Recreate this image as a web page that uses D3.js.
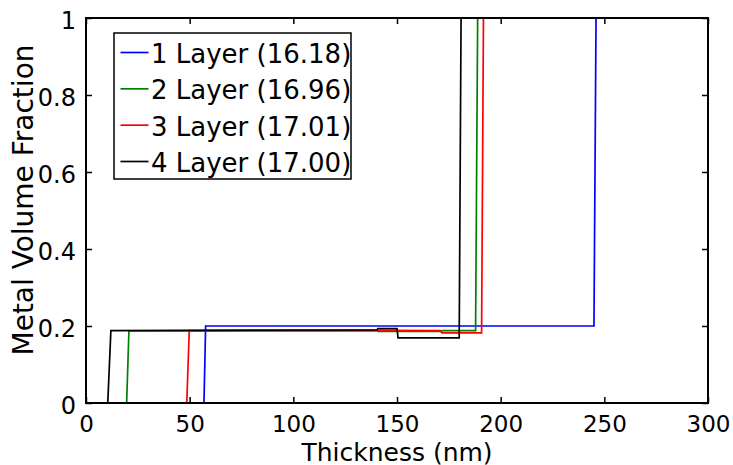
<!DOCTYPE html>
<html>
<head>
<meta charset="utf-8">
<script src="https://cdn.jsdelivr.net/npm/d3@7"></script>
<style>
  html, body { margin: 0; padding: 0; background: #fff; }
  svg { display: block; }
  text { font-family: "DejaVu Sans", sans-serif; fill: #000; }
</style>
</head>
<body>
<svg id="chart" width="733" height="465"></svg>
<script>
// ---- data ----
const seriesNames = ["1 Layer (16.18)", "2 Layer (16.96)", "3 Layer (17.01)", "4 Layer (17.00)"];
const seriesColors = ["#0000ff", "#008000", "#ff0000", "#000000"];

const layer1X = [0, 56.9, 57.7, 245.0, 246.0, 300];
const layer1Y = [0, 0, 0.200, 0.200, 1, 1];

const layer2X = [0, 19.6, 20.7, 140.0, 141.0, 171.0, 172.0, 187.9, 188.9, 300];
const layer2Y = [0, 0, 0.187, 0.188, 0.186, 0.186, 0.188, 0.188, 1, 1];

const layer3X = [0, 48.6, 49.8, 140.0, 171.0, 171.6, 190.8, 191.7, 300];
const layer3Y = [0, 0, 0.188, 0.189, 0.188, 0.182, 0.182, 1, 1];

const layer4X = [0, 10.5, 12.0, 140.3, 140.8, 150.0, 150.5, 180.0, 180.9, 300];
const layer4Y = [0, 0, 0.188, 0.190, 0.193, 0.193, 0.169, 0.169, 1, 1];

const xTicks = [0, 50, 100, 150, 200, 250, 300];
const yTicks = [0, 0.2, 0.4, 0.6, 0.8, 1];
const xTitle = "Thickness (nm)";
const yTitle = "Metal Volume Fraction";

// ---- layout ----
const svg = d3.select("#chart");
const L = 86, R = 708, T = 18, B = 403;
const x = d3.scaleLinear().domain([0, 300]).range([L, R]);
const y = d3.scaleLinear().domain([0, 1]).range([B, T]);

const series = [
  {x: layer1X, y: layer1Y},
  {x: layer2X, y: layer2Y},
  {x: layer3X, y: layer3Y},
  {x: layer4X, y: layer4Y}
];

svg.append("defs").append("clipPath").attr("id", "clip")
  .append("rect").attr("x", L).attr("y", T).attr("width", R - L).attr("height", B - T);

const line = d3.line().x(d => x(d[0])).y(d => y(d[1]));
const gLines = svg.append("g").attr("clip-path", "url(#clip)");
series.forEach((s, i) => {
  const pts = s.x.map((v, j) => [v, s.y[j]]);
  gLines.append("path").datum(pts)
    .attr("d", line)
    .attr("fill", "none")
    .attr("stroke", seriesColors[i])
    .attr("stroke-width", 1.7);
});

// ---- axes (MATLAB-style box with inward ticks) ----
const tickLen = 6;

const axB = svg.append("g").attr("transform", `translate(0,${B})`)
  .call(d3.axisBottom(x).tickValues(xTicks).tickSize(-tickLen).tickPadding(tickLen + 6).tickFormat(d3.format("d")));
const axT = svg.append("g").attr("transform", `translate(0,${T})`)
  .call(d3.axisTop(x).tickValues(xTicks).tickSize(-tickLen).tickFormat(""));
const axL = svg.append("g").attr("transform", `translate(${L},0)`)
  .call(d3.axisLeft(y).tickValues(yTicks).tickSize(-tickLen).tickPadding(tickLen + 4).tickFormat(d => d === 0 ? "0" : d === 1 ? "1" : d3.format(".1f")(d)));
const axR = svg.append("g").attr("transform", `translate(${R},0)`)
  .call(d3.axisRight(y).tickValues(yTicks).tickSize(-tickLen).tickFormat(""));

[axB, axT, axL, axR].forEach(a => {
  a.select(".domain").remove();
  a.selectAll(".tick line").attr("stroke", "#000").attr("stroke-width", 1.5);
  a.selectAll("text").attr("font-family", "DejaVu Sans, sans-serif").attr("fill", "#000");
});
axL.selectAll("text").attr("font-size", 24).attr("dy", "0.42em");
axB.selectAll("text").attr("font-size", 23).attr("dy", "0.72em");

svg.append("rect").attr("x", L).attr("y", T).attr("width", R - L).attr("height", B - T)
  .attr("fill", "none").attr("stroke", "#000").attr("stroke-width", 2);

// ---- titles ----
svg.append("text").attr("x", (L + R) / 2).attr("y", 460.5)
  .attr("text-anchor", "middle").attr("font-size", 25).text(xTitle);
svg.append("text").attr("transform", "translate(33,200) rotate(-90)")
  .attr("text-anchor", "middle").attr("font-size", 28).text(yTitle);

// ---- legend ----
const lg = svg.append("g");
lg.append("rect").attr("x", 114).attr("y", 33).attr("width", 237).attr("height", 146)
  .attr("fill", "#fff").attr("stroke", "#000").attr("stroke-width", 1.5);
const rowY = d3.scalePoint().domain(seriesNames).range([52.5, 161.5]);
seriesNames.forEach((name, i) => {
  const cy = rowY(name);
  lg.append("line").attr("x1", 120.5).attr("x2", 148.5).attr("y1", cy).attr("y2", cy)
    .attr("stroke", seriesColors[i]).attr("stroke-width", 1.7);
  lg.append("text").attr("x", 151).attr("y", cy + 10.5).attr("font-size", 26).text(name);
});
</script>
</body>
</html>
